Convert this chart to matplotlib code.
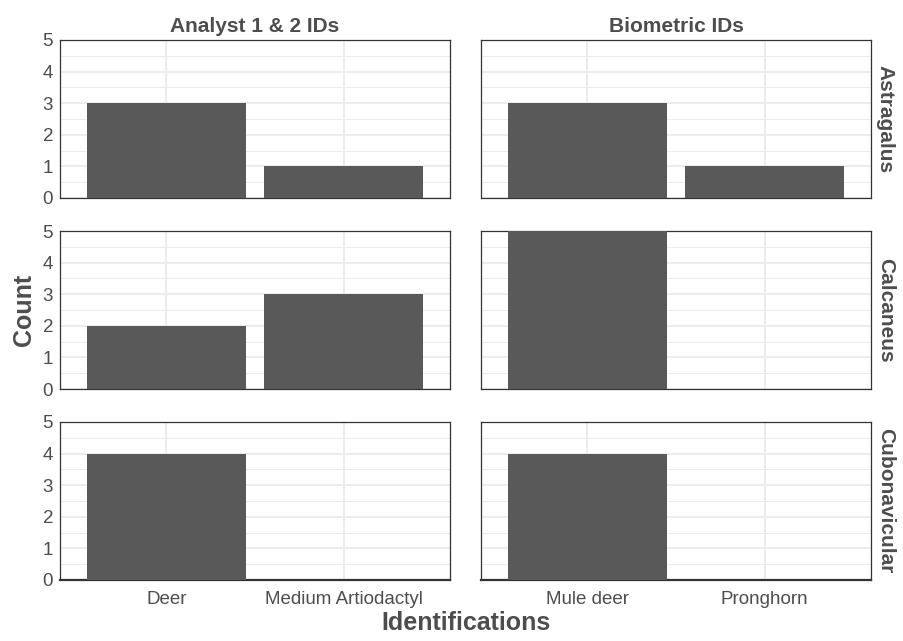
import matplotlib
matplotlib.use("Agg")
import matplotlib.pyplot as plt
from matplotlib.ticker import MultipleLocator

plt.rcParams['font.family'] = ['Liberation Sans', 'DejaVu Sans']

col_titles = ["Analyst 1 & 2 IDs", "Biometric IDs"]
row_titles = ["Astragalus", "Calcaneus", "Cubonavicular"]
cats_analyst = ["Deer", "Medium Artiodactyl"]
cats_biometric = ["Mule deer", "Pronghorn"]
astragalus_analyst = [3, 1]
astragalus_biometric = [3, 1]
calcaneus_analyst = [2, 3]
calcaneus_biometric = [5, 0]
cubonavicular_analyst = [4, 0]
cubonavicular_biometric = [4, 0]

data = [
    [astragalus_analyst, astragalus_biometric],
    [calcaneus_analyst, calcaneus_biometric],
    [cubonavicular_analyst, cubonavicular_biometric],
]
cats = [cats_analyst, cats_biometric]

W, H = 904, 641
fig = plt.figure(figsize=(W / 100, H / 100), dpi=100)

lefts = [60, 481]
pw = 390
tops = [40, 231, 422]
ph = 158

txt = "#4D4D4D"
grid = "#EBEBEB"
bar_c = "#595959"

for r in range(3):
    for c in range(2):
        ax = fig.add_axes([lefts[c] / W, 1 - (tops[r] + ph) / H, pw / W, ph / H])
        vals = data[r][c]
        x = list(range(1, len(cats[c]) + 1))
        ax.bar(x, vals, width=0.9, color=bar_c, zorder=3)
        ax.set_xlim(0.4, 2.6)
        ax.set_ylim(0, 5)
        ax.set_xticks(x)
        ax.yaxis.set_major_locator(MultipleLocator(1))
        ax.yaxis.set_minor_locator(MultipleLocator(0.5))
        ax.grid(True, which='major', color=grid, linewidth=1.3, zorder=0)
        ax.grid(True, which='minor', axis='y', color=grid, linewidth=0.7, zorder=0)
        ax.tick_params(which='both', length=0)
        for s in ax.spines.values():
            s.set_color("#333333")
            s.set_linewidth(0.9)
        if r == 2:
            ax.spines['bottom'].set_linewidth(1.6)
            ax.set_xticklabels(cats[c], fontsize=13.5, color=txt)
            ax.tick_params(axis='x', pad=8)
        else:
            ax.set_xticklabels([])
        if c == 0:
            ax.set_yticks(range(0, 6))
            ax.set_yticklabels([str(v) for v in range(0, 6)], fontsize=13.5, color=txt)
            ax.tick_params(axis='y', pad=5)
        else:
            ax.set_yticklabels([])
        if r == 0:
            ax.set_title(col_titles[c], fontsize=15, fontweight='bold', color=txt, pad=6)
        if c == 1:
            ax.text(1.012, 0.5, row_titles[r], transform=ax.transAxes, rotation=270,
                    ha='left', va='center', fontsize=15, fontweight='bold', color=txt)

fig.text(466 / W, 1 - 623 / H, "Identifications", ha='center', va='center',
         fontsize=18, fontweight='bold', color=txt)
fig.text(24 / W, 1 - 310 / H, "Count", ha='center', va='center', rotation=90,
         fontsize=18, fontweight='bold', color=txt)

fig.savefig("out.png", dpi=100, facecolor='white')
